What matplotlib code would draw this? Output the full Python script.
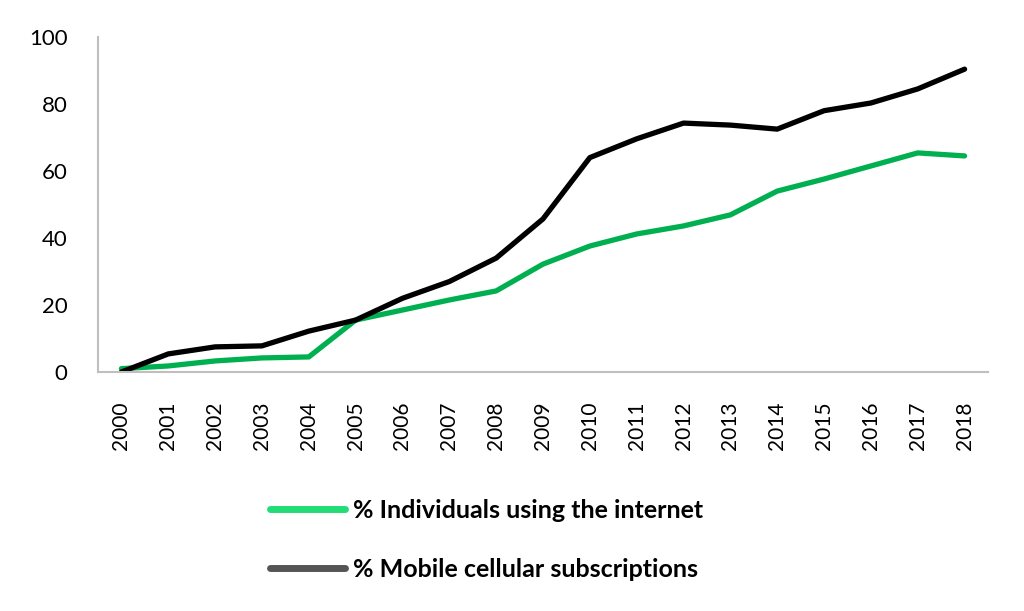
import matplotlib
matplotlib.use("Agg")
import matplotlib.pyplot as plt
from matplotlib.lines import Line2D

years = [str(y) for y in range(2000, 2019)]
internet = [1.0, 1.8, 3.3, 4.2, 4.5, 15.5, 18.5, 21.5, 24.2, 32.2, 37.6, 41.2, 43.6, 46.9, 54.0, 57.6, 61.5, 65.4, 64.5]
mobile = [0.0, 5.4, 7.5, 7.8, 12.2, 15.5, 22.0, 27.0, 34.0, 45.7, 64.0, 69.6, 74.3, 73.7, 72.5, 78.0, 80.3, 84.5, 90.4]
yticks = [0, 20, 40, 60, 80, 100]
labels = ["% Individuals using the internet", "% Mobile cellular subscriptions"]

plt.rcParams['font.family'] = ['Lato', 'DejaVu Sans']

fig = plt.figure(figsize=(10.24, 6.11), dpi=100)
ax = fig.add_axes([98/1024, 1-372/611, (988-98)/1024, (372-37)/611])

x = list(range(len(years)))
ax.plot(x, internet, color='#00B050', lw=3.8, solid_capstyle='round', solid_joinstyle='round')
ax.plot(x, mobile, color='#000000', lw=3.8, solid_capstyle='round', solid_joinstyle='round')

ax.set_xlim(-0.5, len(years) - 0.5)
ax.set_ylim(0, 100)
ax.set_xticks(x)
ax.set_xticklabels(years, rotation=90, fontsize=15)
ax.set_yticks(yticks)
ax.set_yticklabels([str(v) for v in yticks], fontsize=16)
ax.tick_params(length=0)
ax.tick_params(axis='x', pad=21)
ax.tick_params(axis='y', pad=22)
for s in ['top', 'right']:
    ax.spines[s].set_visible(False)
for s in ['left', 'bottom']:
    ax.spines[s].set_color('#bfbfbf')
    ax.spines[s].set_linewidth(1.5)

handles = [Line2D([], [], color='#22DD77', lw=5, solid_capstyle='round'),
           Line2D([], [], color='#555555', lw=5, solid_capstyle='round')]
fig.legend(handles, labels, loc='upper left', bbox_to_anchor=(247/1024, 1-476/611),
           frameon=False, prop={'weight': 'bold', 'size': 18},
           handlelength=3.0, handletextpad=0.35, labelspacing=1.45)

fig.savefig('out.png', dpi=100)
